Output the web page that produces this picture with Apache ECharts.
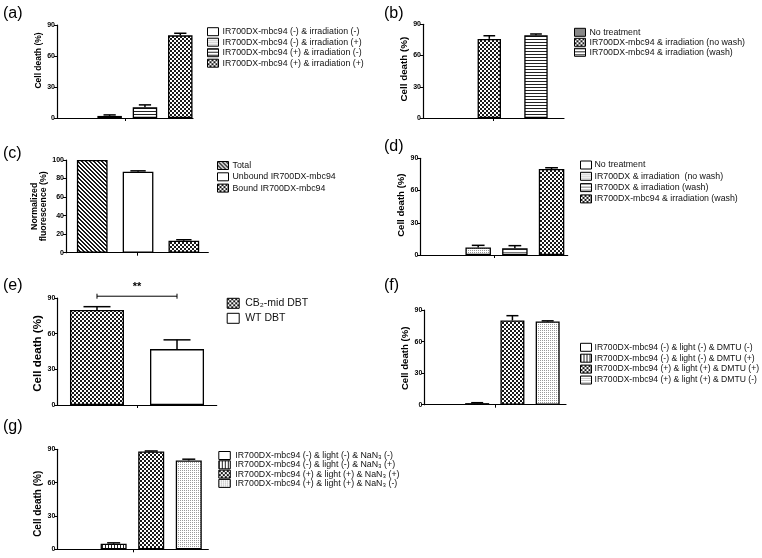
<!DOCTYPE html>
<html>
<head>
<meta charset="utf-8">
<script src="https://cdn.jsdelivr.net/npm/echarts@6/dist/echarts.min.js"></script>
<style>
  html, body { margin: 0; background: #fff; }
  #chart { width: 762px; height: 558px; }
</style>
</head>
<body>
<div id="chart"></div>
<script>
// values (bar height, upper error)
const aLabels = ['IR700DX-mbc94 (-) & irradiation (-)', 'IR700DX-mbc94 (-) & irradiation (+)', 'IR700DX-mbc94 (+) & irradiation (-)', 'IR700DX-mbc94 (+) & irradiation (+)']
const aValues = [0, 2, 10.5, 80]
const aErrors = [0, 1, 2.2, 2]

const bLabels = ['No treatment', 'IR700DX-mbc94 & irradiation (no wash)', 'IR700DX-mbc94 & irradiation (wash)']
const bValues = [0, 76, 79.5]
const bErrors = [0, 3, 1.2]

const cLabels = ['Total', 'Unbound IR700DX-mbc94', 'Bound IR700DX-mbc94']
const cValues = [100, 87.3, 13]
const cErrors = [0, 1, 1]

const dLabels = ['No treatment', 'IR700DX & irradiation  (no wash)', 'IR700DX & irradiation (wash)', 'IR700DX-mbc94 & irradiation (wash)']
const dValues = [0, 7, 6.2, 80]
const dErrors = [0, 2, 2.5, 1.2]

const eLabels = ['CB\u2082-mid DBT', 'WT DBT']
const eValues = [80, 47]
const eErrors = [2.7, 7.8]
const eSigPairs = [[0, 1, 91.5]]
const eSigText = ['**']

const fLabels = ['IR700DX-mbc94 (-) & light (-) & DMTU (-)', 'IR700DX-mbc94 (-) & light (-) & DMTU (+)', 'IR700DX-mbc94 (+) & light (+) & DMTU (+)', 'IR700DX-mbc94 (+) & light (+) & DMTU (-)']
const fValues = [0, 1.5, 80, 79]
const fErrors = [0, 0.4, 4.6, 0.7]

const gLabels = ['IR700DX-mbc94 (-) & light (-) & NaN\u2083 (-)', 'IR700DX-mbc94 (-) & light (-) & NaN\u2083 (+)', 'IR700DX-mbc94 (+) & light (+) & NaN\u2083 (+)', 'IR700DX-mbc94 (+) & light (+) & NaN\u2083 (-)']
const gValues = [0, 5, 88, 80]
const gErrors = [0, 0.8, 0.5, 1.1]

const FONT = "'Liberation Sans', Arial, sans-serif"

// small canvas tiles for the GraphPad style fills
function tile(kind) {
  const sizes = { checker: [4, 4], dense: [2, 2], hlines: [4, 3], hgray: [4, 3], vlines: [3, 4], dots: [2, 2], diag: [4, 4], white: [2, 2] }
  const c = document.createElement('canvas')
  c.width = sizes[kind][0]
  c.height = sizes[kind][1]
  const ctx = c.getContext('2d')
  ctx.fillStyle = '#fff'
  ctx.fillRect(0, 0, c.width, c.height)
  if (kind === 'checker') {
    ctx.fillStyle = '#1a1a1a'
    ctx.fillRect(0, 0, 2, 2)
    ctx.fillRect(2, 2, 2, 2)
  } else if (kind === 'dense') {
    ctx.fillStyle = '#bbb'
    ctx.fillRect(0, 0, 2, 2)
    ctx.fillStyle = '#555'
    ctx.fillRect(0, 0, 1, 1)
    ctx.fillRect(1, 1, 1, 1)
  } else if (kind === 'hlines') {
    ctx.fillStyle = '#222'
    ctx.fillRect(0, 0, 4, 1)
  } else if (kind === 'hgray') {
    ctx.fillStyle = '#777'
    ctx.fillRect(0, 0, 4, 1)
  } else if (kind === 'vlines') {
    ctx.fillStyle = '#222'
    ctx.fillRect(0, 0, 1, 4)
  } else if (kind === 'dots') {
    ctx.fillStyle = '#999'
    ctx.fillRect(0, 0, 1, 1)
  } else if (kind === 'diag') {
    ctx.fillStyle = '#1a1a1a'
    for (let i = 0; i < 4; i++) {
      ctx.fillRect(i, i, 1, 1)
      ctx.fillRect((i + 1) % 4, i, 1, 1)
    }
  }
  return { image: c, repeat: 'repeat' }
}

const panels = [
  { key: 'a', labels: aLabels, values: aValues, errors: aErrors, fills: ['white', 'dots', 'hlines', 'checker'],
    grid: { left: 57, top: 25, width: 136, height: 93 }, xRange: [-0.49, 3.36], barWidth: 24.5,
    yMax: 90, yStep: 30, yName: 'Cell death (%)', nameSize: 8.5, nameGap: 14, nameShift: 22,
    legend: { left: 207, top: 26.7, gap: 0.5, size: 8.8, line: 10, w: 11, h: 8, pad: -1 }, tag: { left: 3, top: 6 } },
  { key: 'b', labels: bLabels, values: bValues, errors: bErrors, fills: ['dense', 'checker', 'hlines'],
    grid: { left: 423, top: 24.3, width: 141, height: 93.7 }, xRange: [-0.42, 2.6], barWidth: 23.4,
    yMax: 90, yStep: 30, yName: 'Cell death (%)', nameSize: 9.8, nameGap: 13, nameShift: 4,
    legend: { left: 574, top: 27.3, gap: 0, size: 8.8, line: 10, w: 11, h: 8, pad: -1 }, tag: { left: 384, top: 6 } },
  { key: 'c', labels: cLabels, values: cValues, errors: cErrors, fills: ['diag', 'white', 'checker'],
    grid: { left: 66, top: 160, width: 142.3, height: 92.7 }, xRange: [-0.573, 2.534], barWidth: 30.7,
    yMax: 100, yStep: 20, yName: 'Normalized\nfluorescence (%)', nameSize: 8.75, nameGap: 16, nameShift: 0,
    legend: { left: 217, top: 160.5, gap: 1.3, size: 8.8, line: 10, w: 11, h: 8, pad: -1 }, tag: { left: 3, top: 146 } },
  { key: 'd', labels: dLabels, values: dValues, errors: dErrors, fills: ['white', 'dots', 'hgray', 'checker'],
    grid: { left: 420.3, top: 158.3, width: 147.4, height: 96.7 }, xRange: [-0.578, 3.44], barWidth: 25.5,
    yMax: 90, yStep: 30, yName: 'Cell death (%)', nameSize: 9.6, nameGap: 6, nameShift: 3,
    legend: { left: 580, top: 160, gap: 1.3, size: 8.8, line: 10, w: 11, h: 8, pad: -2 }, tag: { left: 384, top: 139 } },
  { key: 'e', labels: eLabels, values: eValues, errors: eErrors, fills: ['checker', 'white'],
    grid: { left: 57.3, top: 298, width: 159.4, height: 107 }, xRange: [-0.496, 1.496], barWidth: 54,
    yMax: 90, yStep: 30, yName: 'Cell death (%)', nameSize: 11.6, nameGap: 14, nameShift: -4,
    legend: { left: 226.7, top: 297.3, gap: 3, size: 10.5, line: 12, w: 12, h: 10, pad: 1 }, tag: { left: 3, top: 278 },
    sig: { pairs: eSigPairs, text: eSigText } },
  { key: 'f', labels: fLabels, values: fValues, errors: fErrors, fills: ['white', 'vlines', 'checker', 'dots'],
    grid: { left: 424.3, top: 310, width: 141.7, height: 94.7 }, xRange: [-0.5, 3.52], barWidth: 24,
    yMax: 90, yStep: 30, yName: 'Cell death (%)', nameSize: 9.6, nameGap: 13.5, nameShift: -2,
    legend: { left: 580, top: 342.3, gap: 0.9, size: 8.6, line: 10, w: 11, h: 8, pad: -2 }, tag: { left: 384, top: 278 } },
  { key: 'g', labels: gLabels, values: gValues, errors: gErrors, fills: ['white', 'vlines', 'checker', 'dots'],
    grid: { left: 57.3, top: 449.3, width: 151, height: 100 }, xRange: [-0.5, 3.52], barWidth: 26,
    yMax: 90, yStep: 30, yName: 'Cell death (%)', nameSize: 10, nameGap: 15, nameShift: -9,
    legend: { left: 218.3, top: 451, gap: 0.3, size: 8.8, line: 9, w: 11.5, h: 8, pad: 0 }, tag: { left: 3, top: 419 } },
]

const grid = [], xAxis = [], yAxis = [], series = [], legend = [], title = []

panels.forEach((p, k) => {
  grid.push(p.grid)
  xAxis.push({
    type: 'value', gridIndex: k, min: p.xRange[0], max: p.xRange[1],
    axisLine: { onZero: false, lineStyle: { color: '#000', width: 1.2 } },
    axisTick: { show: true, customValues: [(p.xRange[0] + p.xRange[1]) / 2], length: 3, lineStyle: { color: '#000' } },
    axisLabel: { show: false },
    splitLine: { show: false },
  })
  const pad = p.nameShift >= 0 ? [0, 0, 0, p.nameShift] : [0, -p.nameShift, 0, 0]
  yAxis.push({
    type: 'value', gridIndex: k, min: 0, max: p.yMax, interval: p.yStep,
    axisLine: { show: true, onZero: false, lineStyle: { color: '#000', width: 1.2 } },
    axisTick: { show: true, length: 3, lineStyle: { color: '#000' } },
    axisLabel: { fontSize: 7, fontWeight: 'bold', color: '#000', margin: 2, fontFamily: FONT },
    splitLine: { show: false },
    name: p.yName, nameLocation: 'middle', nameGap: p.nameGap,
    nameTextStyle: { fontSize: p.nameSize, fontWeight: 'bold', color: '#000', fontFamily: FONT, padding: pad, lineHeight: 9 },
  })

  p.labels.forEach((label, i) => {
    const v = p.values[i]
    series.push({
      type: 'bar', name: p.key + ':' + label, xAxisIndex: k, yAxisIndex: k,
      // empty bars are just the axis in the original, so draw nothing for them
      data: [[i, v ? v : '-']],
      barWidth: p.barWidth, barGap: '-100%',
      itemStyle: { color: tile(p.fills[i]), borderColor: '#000', borderWidth: 1.3 },
      emphasis: { disabled: true },
      silent: true,
    })
  })

  // upper error bars, GraphPad style
  series.push({
    type: 'custom', xAxisIndex: k, yAxisIndex: k, z: 5, silent: true,
    data: p.values.map((v, i) => [i, v, p.errors[i]]),
    encode: { x: 0, y: 1 },
    renderItem: (params, api) => {
      const e = api.value(2)
      if (!e) return null
      const a = api.coord([api.value(0), api.value(1)])
      const b = api.coord([api.value(0), api.value(1) + e])
      const hw = p.barWidth / 4
      const st = { stroke: '#000', lineWidth: 1.5 }
      return {
        type: 'group', children: [
          { type: 'line', shape: { x1: a[0], y1: a[1], x2: b[0], y2: b[1] }, style: st },
          { type: 'line', shape: { x1: b[0] - hw, y1: b[1], x2: b[0] + hw, y2: b[1] }, style: st },
        ],
      }
    },
  })

  if (p.sig) {
    series.push({
      type: 'custom', xAxisIndex: k, yAxisIndex: k, z: 5, silent: true,
      data: p.sig.pairs,
      encode: { x: [0, 1], y: 2 },
      renderItem: (params, api) => {
        const l = api.coord([api.value(0), api.value(2)])
        const r = api.coord([api.value(1), api.value(2)])
        const st = { stroke: '#000', lineWidth: 1 }
        return {
          type: 'group', children: [
            { type: 'line', shape: { x1: l[0], y1: l[1], x2: r[0], y2: r[1] }, style: st },
            { type: 'line', shape: { x1: l[0], y1: l[1] - 2.5, x2: l[0], y2: l[1] + 2.5 }, style: st },
            { type: 'line', shape: { x1: r[0], y1: r[1] - 2.5, x2: r[0], y2: r[1] + 2.5 }, style: st },
            { type: 'text', style: { text: p.sig.text[params.dataIndex], x: (l[0] + r[0]) / 2, y: l[1] - 4,
              align: 'center', verticalAlign: 'bottom', font: 'bold 11px ' + FONT, fill: '#000' } },
          ],
        }
      },
    })
  }

  legend.push({
    orient: 'vertical', left: p.legend.left, top: p.legend.top, padding: 0,
    itemGap: p.legend.gap, itemWidth: p.legend.w, itemHeight: p.legend.h, icon: 'rect',
    selectedMode: false,
    data: p.labels.map((l) => p.key + ':' + l),
    formatter: (n) => n.slice(2),
    textStyle: { fontFamily: FONT, fontSize: p.legend.size, lineHeight: p.legend.line, color: '#111', padding: [0, 0, 0, p.legend.pad] },
    itemStyle: { borderColor: '#000', borderWidth: 1 },
  })

  title.push({
    text: '(' + p.key + ')', left: p.tag.left, top: p.tag.top, padding: 0,
    textStyle: { fontFamily: FONT, fontSize: 16, fontWeight: 'normal', color: '#000' },
  })
})

const chart = echarts.init(document.getElementById('chart'))
chart.setOption({
  animation: false,
  backgroundColor: '#fff',
  title, grid, xAxis, yAxis, series, legend,
})
</script>
</body>
</html>
